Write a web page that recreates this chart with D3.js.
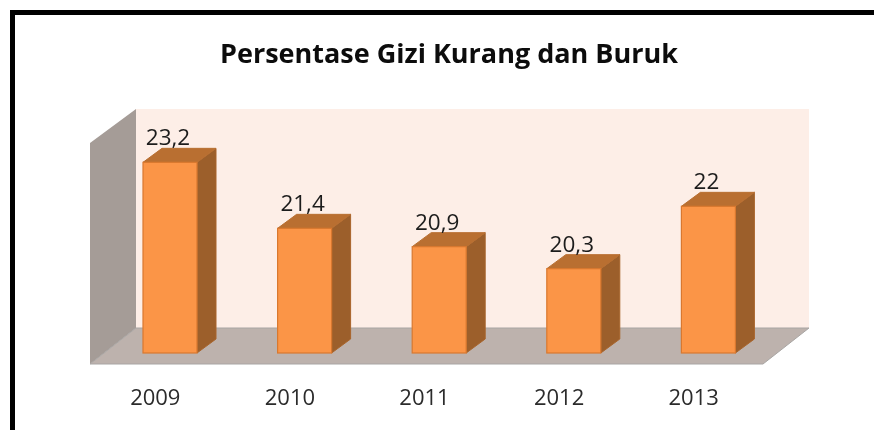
<!DOCTYPE html>
<html><head><meta charset="utf-8">
<script src="https://cdn.jsdelivr.net/npm/d3@7/dist/d3.min.js"></script>
<style>html,body{margin:0;padding:0;background:#fff;overflow:hidden}svg{display:block;filter:blur(.45px)}</style>
</head><body><div id="c"></div>
<script>
const categories = ["2009","2010","2011","2012","2013"];
const labels = ["23,2","21,4","20,9","20,3","22"];
const values = [23.2,21.4,20.9,20.3,22];
const titleText = "Persentase Gizi Kurang dan Buruk";

const W=874,H=430;
const svg=d3.select("#c").append("svg").attr("width",W).attr("height",H);
const font="'Open Sans','Noto Sans',sans-serif";
const x=d3.scaleBand().domain(categories).range([88,761]);
const y=d3.scaleLinear().domain([18,24]).range([353,133]);
const depthX=19, depthY=14, barW=54, barOff=55;
const line=d3.line();

// frame
svg.append("path").attr("d",line([[12.5,430],[12.5,12.5],[874,12.5]])).attr("fill","none").attr("stroke","#000").attr("stroke-width",5);

// walls
svg.append("rect").attr("x",136).attr("y",109).attr("width",673).attr("height",219).attr("fill","#fdeee7");
svg.append("path").attr("d",line([[90,143],[136,109],[136,328],[90,364]])+"Z").attr("fill","#a59c97");
svg.append("path").attr("d",line([[90,364],[136,328],[809,328],[763,364]])+"Z").attr("fill","#bdb2ad").attr("stroke","#a8a5a3").attr("stroke-width",1);

// bars
const g=svg.append("g").selectAll("g").data(categories.map((c,i)=>({c,v:values[i],l:labels[i]}))).join("g");
const L=d=>x(d.c)+barOff, T=d=>y(d.v), B=y(18);
g.append("path").attr("d",d=>line([[L(d)+barW,T(d)],[L(d)+barW+depthX,T(d)-depthY],[L(d)+barW+depthX,B-depthY],[L(d)+barW,B]])+"Z")
 .attr("fill","#9c5f2b").attr("stroke","#a9652c").attr("stroke-width",1);
g.append("path").attr("d",d=>line([[L(d),T(d)],[L(d)+depthX,T(d)-depthY],[L(d)+barW+depthX,T(d)-depthY],[L(d)+barW,T(d)]])+"Z")
 .attr("fill","#b96f31").attr("stroke","#b96f31").attr("stroke-width",1);
g.append("rect").attr("x",L).attr("y",T).attr("width",barW).attr("height",d=>B-T(d))
 .attr("fill","#fb9547").attr("stroke","#d9782f").attr("stroke-width",1.2);

// value labels
g.append("text").attr("x",d=>L(d)+25).attr("y",d=>T(d)-17).attr("text-anchor","middle")
 .attr("font-family",font).attr("font-size",22.5).attr("fill","#1c1c1c").text(d=>d.l);

// category labels
svg.append("g").selectAll("text").data(categories).join("text")
 .attr("x",d=>x(d)+x.bandwidth()/2).attr("y",405).attr("text-anchor","middle")
 .attr("font-family",font).attr("font-size",22).attr("fill","#2b2b2b").text(d=>d);

// title
svg.append("text").attr("x",449).attr("y",63).attr("text-anchor","middle")
 .attr("font-family",font).attr("font-weight",700).attr("font-size",27).attr("fill","#0c0c0c").text(titleText);
</script></body></html>
